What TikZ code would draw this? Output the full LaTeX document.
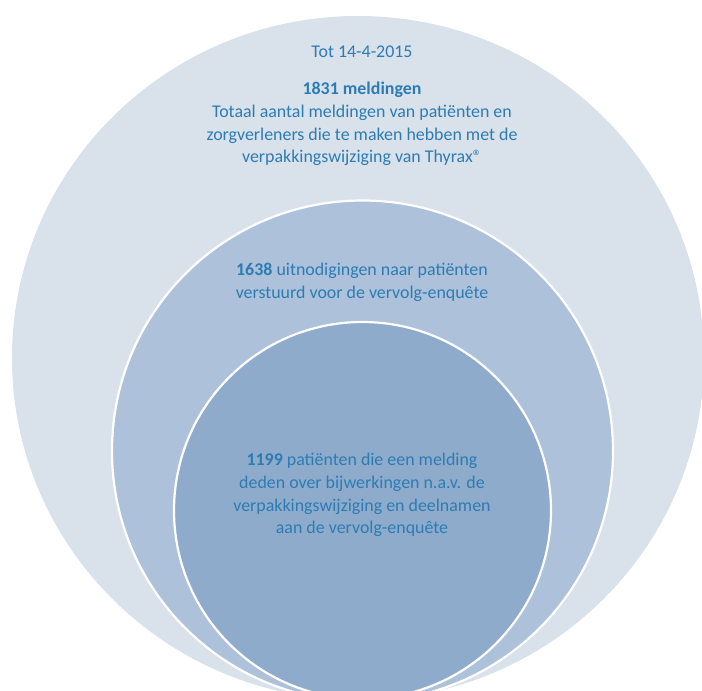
\documentclass[tikz,border=0pt]{standalone}
\usepackage{fontspec}
\setmainfont{Carlito}
\definecolor{outerc}{HTML}{D9E1EB}
\definecolor{midc}{HTML}{ADC1DA}
\definecolor{innc}{HTML}{8EABCB}
\definecolor{txtc}{HTML}{2C7CB3}
\tikzset{
  ring/.style={draw=white, line width=2.2pt},
  lbl/.style={text=txtc, align=center, inner sep=0pt, font=\fontsize{17.9}{22.8}\selectfont}
}
\begin{document}
\begin{tikzpicture}[x=1pt,y=-1pt]
\useasboundingbox (0,0) rectangle (702,691);
\clip (0,0) rectangle (702,691);
\fill[outerc] (358,358) ellipse [x radius=346, y radius=342];
\filldraw[fill=midc, ring] (362.5,451) circle [radius=250.5];
\filldraw[fill=innc, ring] (362.5,510.5) circle [radius=188.5];
\node[lbl] (date) at (362,52) {Tot 14-4-2015};
\node[lbl] (total) at (362,124) {\textbf{1831 meldingen}\\Totaal aantal meldingen van patiënten en\\zorgverleners die te maken hebben met de\\verpakkingswijziging van Thyrax®};
\node[lbl] (invite) at (362,282) {\textbf{1638} uitnodigingen naar patiënten\\verstuurd voor de vervolg-enquête};
\node[lbl] (part) at (362,495) {\textbf{1199} patiënten die een melding\\deden over bijwerkingen n.a.v. de\\verpakkingswijziging en deelnamen\\aan de vervolg-enquête};
\end{tikzpicture}
\end{document}
